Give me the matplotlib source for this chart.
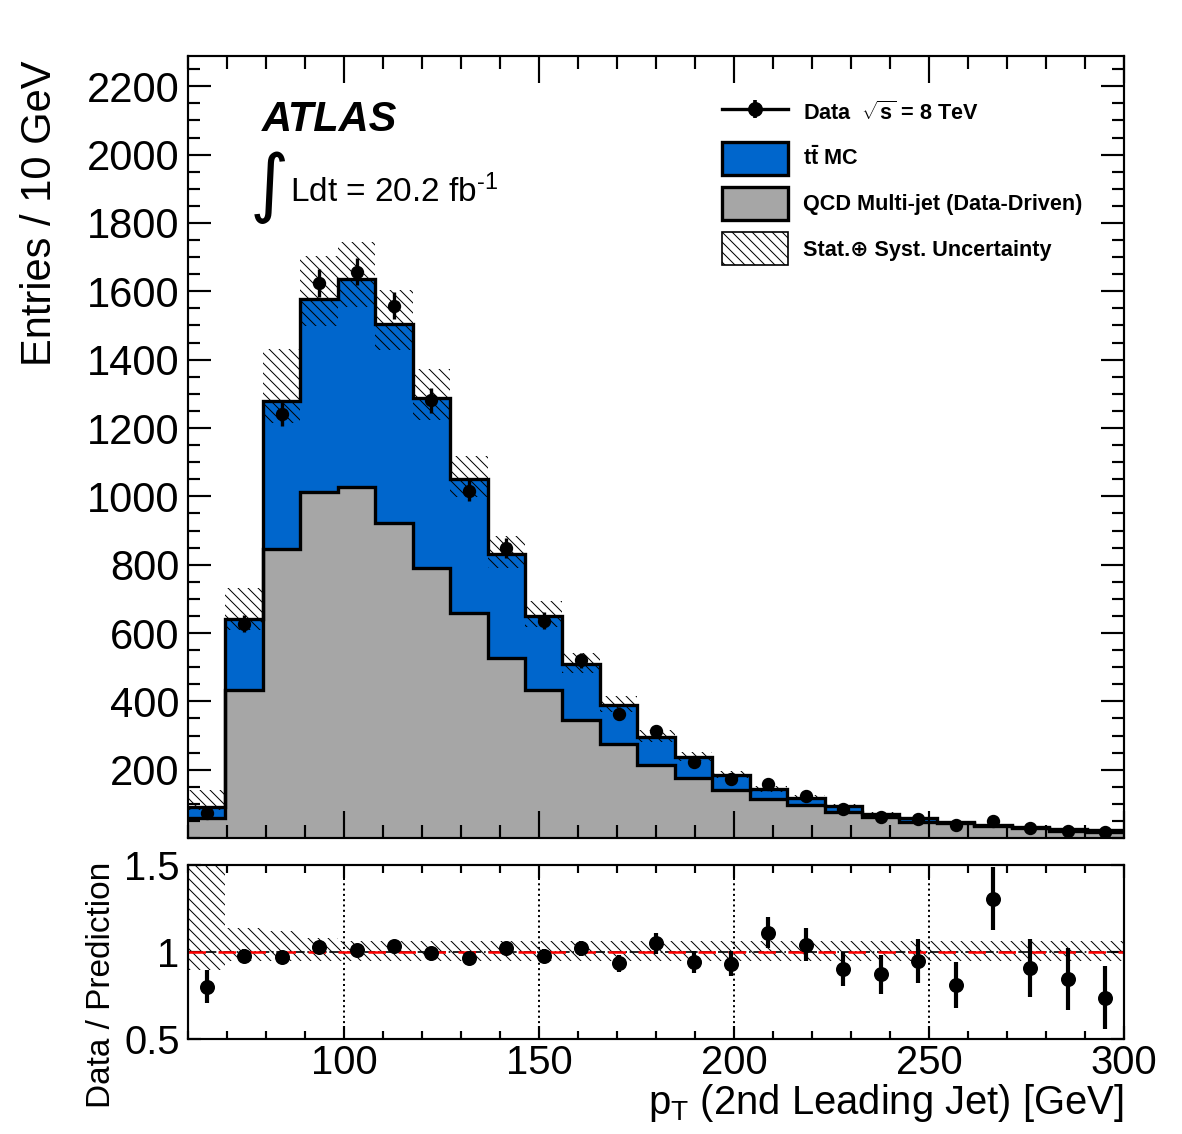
import numpy as np
import matplotlib
matplotlib.use("Agg")
import matplotlib.pyplot as plt
from matplotlib.lines import Line2D
from matplotlib.patches import Patch
from matplotlib.legend_handler import HandlerTuple
from matplotlib.ticker import MultipleLocator

# binning: 25 bins between 60 and 300 GeV
bin_lo, bin_hi, n_bins = 60, 300, 25

# stacked predictions (events per bin)
qcd = [60, 433, 845, 1012, 1028, 921, 790, 658, 526, 433, 344, 275, 214,
       175, 142, 114, 96, 76, 62, 48, 43, 34, 29, 22, 19]
ttbar = [31, 208, 433, 565, 609, 584, 499, 392, 305, 217, 165, 114, 83,
         61, 42, 29, 21, 18, 9, 11, 5, 5, 4, 4, 4]
data = [73, 627, 1240, 1624, 1658, 1558, 1281, 1017, 849, 636, 520, 364, 312,
        223, 172, 159, 122, 85, 62, 56, 39, 51, 30, 22, 17]

# relative stat+syst uncertainty on the prediction (up / down)
unc_up = [0.54, 0.14, 0.12, 0.08, 0.065, 0.065, 0.065, 0.065, 0.065, 0.065,
          0.065, 0.065, 0.065, 0.065, 0.065, 0.065, 0.065, 0.065, 0.065,
          0.065, 0.065, 0.065, 0.065, 0.065, 0.065]
unc_dn = [0.10, 0.05, 0.05, 0.05, 0.05, 0.05, 0.05, 0.05, 0.05, 0.05,
          0.05, 0.05, 0.05, 0.05, 0.05, 0.05, 0.05, 0.05, 0.05, 0.05,
          0.05, 0.05, 0.05, 0.05, 0.05]

plt.rcParams['font.family'] = ['Liberation Sans', 'DejaVu Sans']
plt.rcParams['mathtext.fontset'] = 'custom'
plt.rcParams['mathtext.rm'] = 'Liberation Sans'
plt.rcParams['mathtext.it'] = 'Liberation Sans:italic'
plt.rcParams['mathtext.bf'] = 'Liberation Sans:bold'
plt.rcParams['hatch.linewidth'] = 0.6
plt.rcParams['axes.linewidth'] = 1.3

BLUE = '#0066cc'
GREY = '#a6a6a6'
HATCH = '\\\\\\\\'  # four backslashes -> fine diagonal hatching

edges = np.linspace(bin_lo, bin_hi, n_bins + 1)
centers = 0.5 * (edges[1:] + edges[:-1])
qcd = np.array(qcd, float)
total = qcd + np.array(ttbar, float)
data = np.array(data, float)
up = np.array(unc_up)
dn = np.array(unc_dn)

DPI = 120
fig = plt.figure(figsize=(1182 / DPI, 1134 / DPI), dpi=DPI)
ax = fig.add_axes([0.1591, 0.261, 0.7919, 0.690])
axr = fig.add_axes([0.1591, 0.0835, 0.7919, 0.1537])

# --- main panel ---
ax.stairs(qcd, edges, baseline=0, fill=True, color=GREY, zorder=1)
ax.stairs(total, edges, baseline=qcd, fill=True, color=BLUE, zorder=1)
ax.stairs(total * (1 + up), edges, baseline=total * (1 - dn), fill=True,
          facecolor='none', edgecolor='k', hatch=HATCH, lw=0, zorder=2)
ax.stairs(qcd, edges, baseline=None, color='k', lw=2, zorder=3)
ax.stairs(total, edges, baseline=None, color='k', lw=2, zorder=3)
ax.errorbar(centers, data, yerr=np.sqrt(data), fmt='o', color='k', ms=7,
            elinewidth=2, capsize=0, zorder=4)

ax.set_xlim(bin_lo, bin_hi)
ax.set_ylim(0, 2290)
ax.set_xticks(np.arange(100, 301, 50))
ax.xaxis.set_minor_locator(MultipleLocator(10))
ax.set_yticks(np.arange(200, 2201, 200))
ax.yaxis.set_minor_locator(MultipleLocator(50))
ax.tick_params(which='both', direction='in', top=True, right=True,
               labelbottom=False, width=1.3)
ax.tick_params(axis='x', which='major', length=16)
ax.tick_params(axis='x', which='minor', length=8)
ax.tick_params(axis='y', which='major', length=14, labelsize=25, pad=5)
ax.tick_params(axis='y', which='minor', length=7)

ax.text(0.079, 0.918, 'ATLAS', transform=ax.transAxes, fontsize=25,
        fontweight='bold', fontstyle='italic', va='center')
ax.text(0.085, 0.832, r'$\int$', transform=ax.transAxes, fontsize=32,
        ha='center', va='center', math_fontfamily='dejavusans')
ax.text(0.109, 0.813, r'Ldt = 20.2 fb$^{\text{-1}}$',
        transform=ax.transAxes, fontsize=20, va='baseline')

h_data = (Line2D([], [], color='k', lw=2),
          Line2D([], [], marker='|', ms=11, mew=2.2, color='k', ls='none'),
          Line2D([], [], marker='o', ms=8, color='k', ls='none'))
h_tt = Patch(facecolor=BLUE, edgecolor='k', lw=2)
h_qcd = Patch(facecolor=GREY, edgecolor='k', lw=2)
h_unc = Patch(facecolor='white', edgecolor='k', hatch=HATCH, lw=1)
labels = [r'Data  $\sqrt{\mathbf{s}}$ = 8 TeV', r'$\mathbf{t\bar{t}}$ MC',
          'QCD Multi-jet (Data-Driven)', 'Stat.\u2295 Syst. Uncertainty']
ax.legend([h_data, h_tt, h_qcd, h_unc], labels,
          handler_map={tuple: HandlerTuple(ndivide=1)},
          loc='upper left', bbox_to_anchor=(0.5705, 0.947), frameon=False,
          prop={'weight': 'bold', 'size': 13,
                'family': ['Liberation Sans', 'DejaVu Sans']},
          handlelength=3.05, handleheight=1.96, labelspacing=0.56,
          handletextpad=0.69, borderpad=0, borderaxespad=0)

# --- ratio panel ---
ratio = data / total
ratio_err = np.sqrt(data) / total
axr.stairs(1 + up, edges, baseline=1 - dn, fill=True, facecolor='none',
           edgecolor='k', hatch=HATCH, lw=0, zorder=1)
axr.axhline(1, color='k', ls='-.', lw=1, zorder=2)
axr.axhline(1, color='red', ls=(0, (7, 5)), lw=1.5, zorder=2)
axr.errorbar(centers, ratio, yerr=ratio_err, fmt='o', color='k', ms=8,
             elinewidth=2.5, capsize=0, zorder=4)

axr.set_xlim(bin_lo, bin_hi)
axr.set_ylim(0.5, 1.5)
axr.set_yticks([0.5, 1, 1.5])
axr.set_yticklabels(['0.5', '1', '1.5'])
axr.set_xticks(np.arange(100, 301, 50))
axr.xaxis.set_minor_locator(MultipleLocator(10))
axr.grid(axis='x', which='major', ls=':', color='k', lw=1.2)
axr.tick_params(which='both', direction='in', top=True, right=True, width=1.3)
axr.tick_params(axis='x', which='major', length=8, labelsize=24, pad=3)
axr.tick_params(axis='x', which='minor', length=5)
axr.tick_params(axis='y', which='major', length=8, labelsize=24, pad=5)

fig.text(40 / 1182, 1 - 60 / 1134, 'Entries / 10 GeV', rotation=90,
         ha='center', va='top', fontsize=25)
fig.text(101 / 1182, 1 - 862 / 1134, 'Data / Prediction', rotation=90,
         ha='center', va='top', fontsize=20)
fig.text(1124 / 1182, 1 - 1114 / 1134,
         r'p$_{\mathregular{T}}$ (2nd Leading Jet) [GeV]',
         ha='right', va='baseline', fontsize=24)

fig.savefig('out.png', dpi=DPI)
